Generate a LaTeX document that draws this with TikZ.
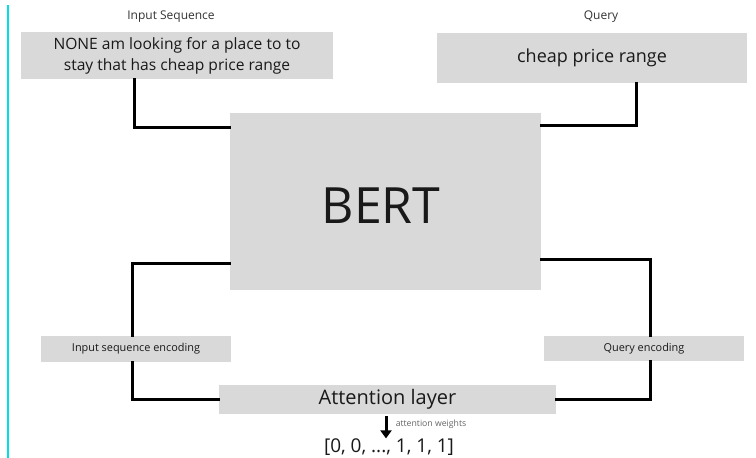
\documentclass[tikz,border=0pt]{standalone}
\usepackage{fontspec}
\setmainfont{Open Sans}
\usetikzlibrary{arrows.meta}
\definecolor{boxgray}{RGB}{217,217,217}
\definecolor{sidecyan}{RGB}{0,222,230}
\definecolor{txt}{RGB}{25,25,25}
\tikzset{
  box/.style={fill=boxgray, draw=none, inner sep=0pt, text=txt, align=center},
  conn/.style={draw=black, line width=3pt, line cap=rect},
  lbl/.style={inner sep=0pt, text=txt},
}
\begin{document}
\begin{tikzpicture}[x=1pt,y=-1pt]
\useasboundingbox (0,0) rectangle (756,458);
\fill[white] (0,0) rectangle (756,458);
\draw[sidecyan, line width=2pt] (8,5) -- (8,458);

\node[lbl, font=\fontsize{12}{14}\selectfont, text=black!80] (inplbl) at (171,17) {Input Sequence};
\node[lbl, font=\fontsize{12}{14}\selectfont, text=black!80] (qrylbl) at (601,17) {Query};

\node[box, minimum width=312pt, minimum height=47pt, font=\fontsize{15.6}{21}\selectfont] (inp) at (177,55.5) {NONE am looking for a place to to\\stay that has cheap price range};
\node[box, minimum width=310pt, minimum height=50pt, font=\fontsize{18}{21}\selectfont] (qry) at (592,58) {cheap price range};
\node[box, minimum width=311pt, minimum height=177pt] (bert) at (385.5,201.5) {};
\node[lbl, font=\fontsize{50}{56}\selectfont] (berttxt) at (381,206) {BERT};

\node[box, minimum width=190pt, minimum height=26pt, font=\fontsize{10.9}{12}\selectfont] (ise) at (136,349) {Input sequence encoding};
\node[box, minimum width=200pt, minimum height=25pt, font=\fontsize{10.9}{12}\selectfont] (qe) at (644,348.5) {\raisebox{2pt}{Query encoding}};
\node[box, minimum width=337pt, minimum height=29pt, font=\fontsize{20}{22}\selectfont] (att) at (387.5,399.5) {Attention layer};

\node[lbl, font=\fontsize{19}{21}\selectfont] (out) at (389,447) {[0, 0, ..., 1, 1, 1]};
\node[lbl, font=\fontsize{8.7}{10}\selectfont, text=black!60] (aw) at (431,424) {attention weights};

\draw[conn] ([xshift=-43pt]inp.south) |- ([yshift=74.5pt]bert.west);
\draw[conn] ([xshift=44pt]qry.south) |- ([yshift=76.5pt]bert.east);
\draw[conn] ([yshift=-61.5pt]bert.west) -| ([xshift=-4pt]ise.north);
\draw[conn] ([yshift=-57.5pt]bert.east) -| ([xshift=6pt]qe.north);
\draw[conn] ([xshift=-4pt]ise.south) |- (att.west);
\draw[conn] ([xshift=6pt]qe.south) |- (att.east);
\draw[line width=3pt, -{Triangle[width=11pt,length=8pt]}] ([xshift=-1.5pt,yshift=-2pt]att.south) -- ([xshift=-3pt]out.north);
\end{tikzpicture}
\end{document}
